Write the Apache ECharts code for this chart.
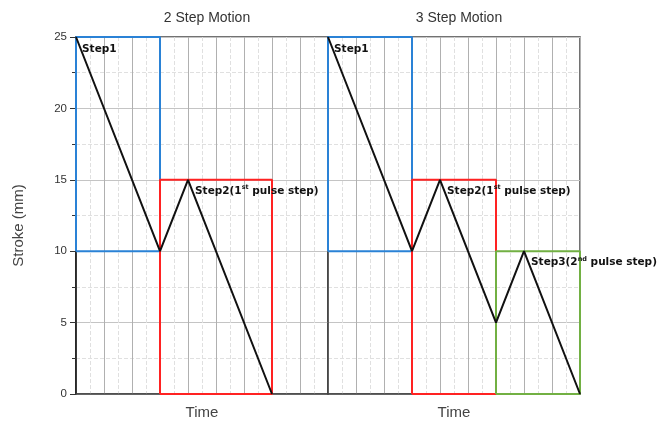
<!DOCTYPE html>
<html>
<head>
<meta charset="utf-8">
<script src="https://cdn.jsdelivr.net/npm/echarts@6/dist/echarts.min.js"></script>
<style>
  html, body { margin: 0; padding: 0; background: #fff; }
  #chart { width: 666px; height: 427px; }
</style>
</head>
<body>
<div id="chart"></div>
<script>
// stroke axis ticks (mm) and number of time slots per panel
var strokeTicks = [0, 5, 10, 15, 20, 25];
var timeSlots = 9;

// 2 step motion: stroke path
var twoStepTime = [0, 3, 4, 7];
var twoStepStroke = [25, 10, 15, 0];

// 3 step motion: stroke path
var threeStepTime = [0, 3, 4, 6, 7, 9];
var threeStepStroke = [25, 10, 15, 5, 10, 0];

// step windows [start time, end time, low stroke, high stroke]
var twoStepBoxes = [[0, 3, 10, 25], [3, 7, 0, 15]];
var threeStepBoxes = [[0, 3, 10, 25], [3, 6, 0, 15], [6, 9, 0, 10]];

// labels: point index -> text pieces (normal, superscript, normal)
var twoStepLabels = { 0: ['Step1'], 2: ['Step2(1', 'st', ' pulse step)'] };
var threeStepLabels = { 0: ['Step1'], 2: ['Step2(1', 'st', ' pulse step)'], 4: ['Step3(2', 'nd', ' pulse step)'] };

var boxColors = ['#2a82d6', '#ff2222', '#72b043'];

(function () {
  var myChart = echarts.init(document.getElementById('chart'));

  function boxPath(b) {
    return [[b[0], b[2]], [b[1], b[2]], [b[1], b[3]], [b[0], b[3]], [b[0], b[2]]];
  }

  function richText(parts) {
    if (parts.length === 1) return '{b|' + parts[0] + '}';
    return '{b|' + parts[0] + '}{s|' + parts[1] + '}{b|' + parts[2] + '}';
  }

  var labelRich = {
    b: { fontFamily: 'DejaVu Sans', fontWeight: 'bold', fontSize: 10.5, color: '#111' },
    s: { fontFamily: 'DejaVu Sans', fontWeight: 'bold', fontSize: 6.5, color: '#111', verticalAlign: 'top', padding: [0, 0, 6, 0] }
  };

  function pathData(times, strokes, labels) {
    return times.map(function (t, i) {
      var item = { value: [t, strokes[i]] };
      if (labels[i]) {
        item.label = {
          show: true,
          position: 'right',
          distance: i === 0 ? 6 : 7,
          offset: [0, i === 0 ? 12 : 11],
          formatter: richText(labels[i]),
          rich: labelRich
        };
      }
      return item;
    });
  }

  var series = [];
  [twoStepBoxes, threeStepBoxes].forEach(function (boxes, g) {
    boxes.forEach(function (b, k) {
      series.push({
        type: 'line',
        xAxisIndex: g,
        yAxisIndex: g,
        data: boxPath(b),
        symbol: 'none',
        clip: false,
        silent: true,
        lineStyle: { color: boxColors[k], width: 2 },
        z: 3 + k
      });
    });
  });

  function pathSeries(idx, times, strokes, labels) {
    return {
      type: 'line',
      xAxisIndex: idx,
      yAxisIndex: idx,
      data: pathData(times, strokes, labels),
      symbol: 'circle',
      symbolSize: 0.1,
      showSymbol: true,
      showAllSymbol: true,
      itemStyle: { color: '#111' },
      clip: false,
      lineStyle: { color: '#111', width: 2 },
      z: 10
    };
  }
  series.push(pathSeries(0, twoStepTime, twoStepStroke, twoStepLabels));
  series.push(pathSeries(1, threeStepTime, threeStepStroke, threeStepLabels));

  function xAxis(idx) {
    return {
      type: 'value',
      gridIndex: idx,
      min: 0,
      max: timeSlots,
      interval: 1,
      name: 'Time',
      nameLocation: 'middle',
      nameGap: 11,
      nameTextStyle: { fontFamily: 'Liberation Sans', fontSize: 15, color: '#444' },
      axisLine: { show: true, lineStyle: { color: '#444', width: 1.5 } },
      axisTick: { show: false },
      axisLabel: { show: false },
      splitLine: { show: true, lineStyle: { color: '#b0b0b0', width: 1 } },
      minorTick: { show: false, splitNumber: 2 },
      minorSplitLine: { show: true, lineStyle: { color: '#e0e0e0', type: 'dashed', width: 1 } }
    };
  }

  function yAxis(idx) {
    var first = idx === 0;
    return {
      type: 'value',
      gridIndex: idx,
      min: strokeTicks[0],
      max: strokeTicks[strokeTicks.length - 1],
      interval: strokeTicks[1] - strokeTicks[0],
      name: first ? 'Stroke (mm)' : '',
      nameLocation: 'middle',
      nameGap: 50,
      nameTextStyle: { fontFamily: 'Liberation Sans', fontSize: 15, color: '#444', padding: [0, 20, 0, 0] },
      axisLine: { show: true, lineStyle: { color: first ? '#111' : '#444', width: 1.5 } },
      axisTick: { show: first, length: 6, inside: false, lineStyle: { color: '#333' } },
      minorTick: { show: first, splitNumber: 2, length: 4, lineStyle: { color: '#333' } },
      axisLabel: { show: first, margin: 9, fontFamily: 'Liberation Sans', fontSize: 11.5, color: '#333' },
      splitLine: { show: true, lineStyle: { color: '#c4c4c4', width: 1 } },
      minorSplitLine: { show: true, lineStyle: { color: '#e0e0e0', type: 'dashed', width: 1 } }
    };
  }

  var option = {
    animation: false,
    backgroundColor: '#fff',
    title: [
      {
        text: '2 Step Motion',
        left: 202,
        top: 6,
        textAlign: 'center',
        textStyle: { fontFamily: 'Liberation Sans', fontSize: 14, fontWeight: 'normal', color: '#333' }
      },
      {
        text: '3 Step Motion',
        left: 454,
        top: 6,
        textAlign: 'center',
        textStyle: { fontFamily: 'Liberation Sans', fontSize: 14, fontWeight: 'normal', color: '#333' }
      }
    ],
    grid: [
      { left: 76, top: 37, width: 252, height: 357, show: true, borderColor: '#444', borderWidth: 1.5 },
      { left: 328, top: 37, width: 252, height: 357, show: true, borderColor: '#444', borderWidth: 1.5 }
    ],
    xAxis: [xAxis(0), xAxis(1)],
    yAxis: [yAxis(0), yAxis(1)],
    series: series
  };

  myChart.setOption(option);
})();
</script>
</body>
</html>
